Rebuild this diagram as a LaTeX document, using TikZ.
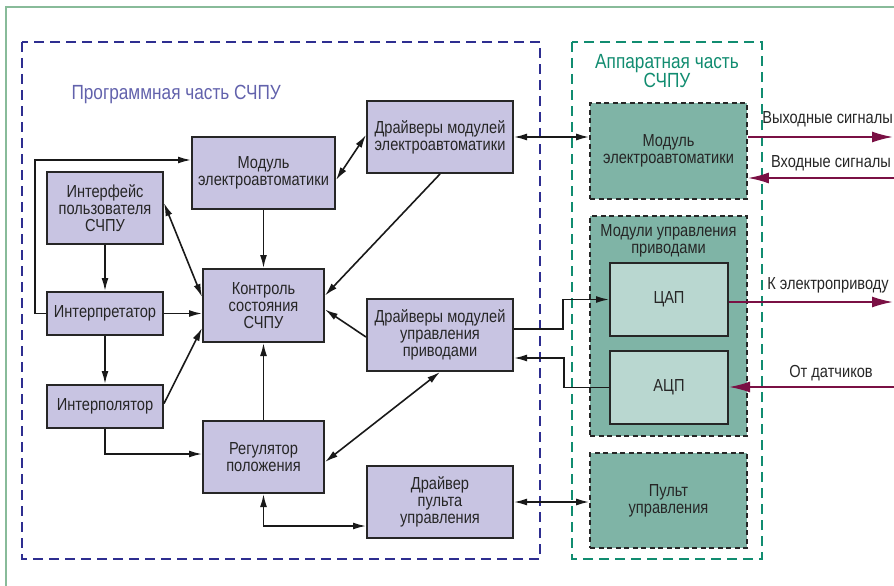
\documentclass[tikz,border=0pt]{standalone}
\usepackage{fontspec}
\setmainfont{Liberation Sans}[FakeStretch=0.84]
\usetikzlibrary{arrows.meta}
\definecolor{lilac}{HTML}{C8C4E2}
\definecolor{teal1}{HTML}{7FB4A6}
\definecolor{teal2}{HTML}{B9D7D0}
\definecolor{swblue}{HTML}{2E2E90}
\definecolor{hwgreen}{HTML}{118C70}
\definecolor{frame}{HTML}{88BB99}
\definecolor{maroon}{HTML}{7A1044}

\begin{document}
\begin{tikzpicture}[x=1pt,y=-1pt,
 font=\fontsize{17.4}{17}\selectfont,text=black!85,
 sw/.style={draw=black!85,line width=2pt,fill=lilac,align=center,inner sep=0pt},
 hw/.style={draw=black!85,line width=1.8pt,dash pattern=on 5pt off 3.5pt,fill=teal1,align=center,inner sep=0pt},
 cv/.style={draw=black!85,line width=2pt,fill=teal2,inner sep=0pt},
 con/.style={line width=1.6pt,black!90,-{Latex[length=13pt,width=7pt]}},
 bcon/.style={con,{Latex[length=13pt,width=7pt]}-{Latex[length=13pt,width=7pt]}},
 sig/.style={line width=1.8pt,maroon,-{Latex[length=21pt,width=11pt]}}]
 \useasboundingbox (0,0) rectangle (894,586);
 \draw[frame,line width=2.2pt] (6,586) -- (6,7) -- (894,7);
 % two parts of the CNC
 \draw[swblue,line width=2.6pt,dash pattern=on 10pt off 6pt] (22,42) rectangle (540,559);
 \draw[hwgreen,line width=2.6pt,dash pattern=on 10pt off 6pt] (572,42) rectangle (762,559);
 \node[anchor=west,text=swblue!75,font=\fontsize{20.5}{20}\selectfont] (swtitle) at (68,94) {Программная часть СЧПУ};
 \node[text=hwgreen,align=center,font=\fontsize{20.5}{19.5}\selectfont] (hwtitle) at (667,71) {Аппаратная часть\\СЧПУ};

 % software
 \node[sw,minimum width=143pt,minimum height=72pt] (modEA) at (263.5,173) {Модуль\\электроавтоматики};
 \node[sw,minimum width=116pt,minimum height=72pt] (intf) at (105,208) {Интерфейс\\пользователя\\СЧПУ};
 \node[sw,minimum width=146pt,minimum height=72pt] (drvEA) at (440,137) {Драйверы модулей\\электроавтоматики};
 \node[sw,minimum width=121pt,minimum height=73pt] (ctrl) at (263.5,305.5) {Контроль\\состояния\\СЧПУ};
 \node[sw,minimum width=116pt,minimum height=43pt] (interp) at (105,313.5) {Интерпретатор};
 \node[sw,minimum width=116pt,minimum height=43pt] (interpol) at (105,406.5) {Интерполятор};
 \node[sw,minimum width=121pt,minimum height=72pt] (reg) at (263.5,457) {Регулятор\\положения};
 \node[sw,minimum width=146pt,minimum height=72pt] (drvDr) at (440,335) {Драйверы модулей\\управления\\приводами};
 \node[sw,minimum width=146pt,minimum height=72pt] (drvPult) at (440,502) {Драйвер\\пульта\\управления};

 % hardware
 \node[hw,minimum width=157pt,minimum height=96pt] (hwEA) at (668.5,151) {Модуль\\электроавтоматики};
 \node[hw,minimum width=157pt,minimum height=220pt] (hwDr) at (668.5,326) {};
 \node[align=center,anchor=north] (hwDrLbl) at ([yshift=-6pt]hwDr.north) {Модули управления\\приводами};
 \node[cv,minimum width=118pt,minimum height=73pt] (dac) at (669,299.5) {ЦАП};
 \node[cv,minimum width=118pt,minimum height=73pt] (adc) at (669,387.5) {АЦП};
 \node[hw,minimum width=157pt,minimum height=95pt] (hwPult) at (668.5,500.5) {Пульт\\управления};

 % connections
 \draw[bcon] ([yshift=5pt]intf.east) -- ([yshift=-29pt]ctrl.north west);
 \draw[con] (intf.south) -- (interp.north);
 \draw[con] (interp.south) -- (interpol.north);
 \draw[con] (interp.east) -- (interp.east -| ctrl.west);
 \draw[con] ([yshift=3pt]interpol.east) -- ([yshift=15pt]ctrl.south west);
 \draw[con] (interpol.south) |- ([yshift=3pt]reg.west);
 \draw[con] (interp.west) -- ++(-11,0) |- ([yshift=13pt]modEA.west);
 \draw[con] (modEA.south) -- (ctrl.north);
 \draw[bcon] ([yshift=-7pt]modEA.east) -- ([yshift=2pt]drvEA.west);
 \draw[con] (drvEA.south) -- ([yshift=10pt]ctrl.east);
 \draw[con] ([yshift=-2pt]drvDr.west) -- ([yshift=-4pt]ctrl.east);
 \draw[con] (reg.north) -- (ctrl.south);
 \draw[bcon] ([yshift=-5pt]reg.east) -- (drvDr.south);
 \draw[bcon] (reg.south) |- ([yshift=-24pt]drvPult.west);
 \draw[bcon] (drvEA.east) -- (drvEA.east -| hwEA.west);
 \draw[con] ([yshift=6pt]drvDr.east) -- ++(49,0) |- (dac.west);
 \draw[con] (adc.west) -- ++(-45,0) |- ([yshift=-23pt]drvDr.east);
 \draw[bcon] (drvPult.east) -- (drvPult.east -| hwPult.west);

 % signals
 \coordinate (outEA) at (893,137);
 \coordinate (inEA) at (894,178);
 \coordinate (outDr) at (893,302);
 \coordinate (inDr) at (894,387);
 \draw[sig] ([yshift=14pt]hwEA.east) -- (outEA);
 \draw[sig] (inEA) -- (inEA -| hwEA.east);
 \draw[sig] (dac.east |- outDr) -- (outDr);
 \draw[sig] (inDr) -- (adc.east |- inDr);
 \node[anchor=east,inner xsep=1pt] (lblOut) at (894,119) {Выходные сигналы};
 \node (lblIn) at (831,163) {Входные сигналы};
 \node (lblDrv) at (828,285) {К электроприводу};
 \node (lblSens) at (831,373) {От датчиков};
\end{tikzpicture}
\end{document}
